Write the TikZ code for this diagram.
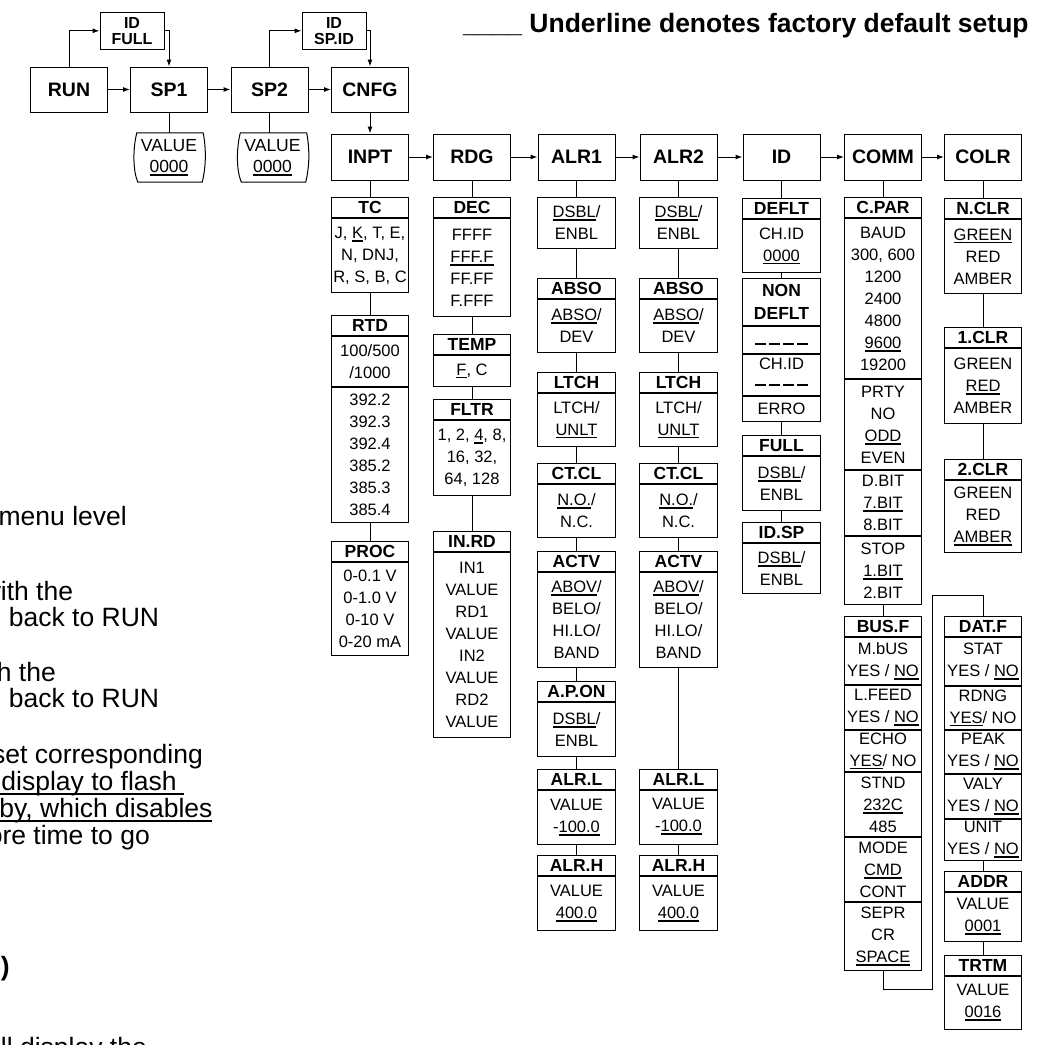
\documentclass[tikz,border=0pt]{standalone}
\usepackage{fontspec}
\setmainfont{Liberation Sans}
\usetikzlibrary{arrows.meta,positioning}
\newcommand\ul[1]{\setbox0=\hbox{#1}\rlap{\rule[-3.4pt]{\wd0}{1.9pt}}\box0}
\newcommand\thinul[1]{\setbox0=\hbox{#1}\rlap{\rule[-4.5pt]{\wd0}{1.3pt}}\box0}
\newcommand\blank{\rule{11pt}{1.6pt}\hspace{3pt}\rule{11pt}{1.6pt}\hspace{3pt}\rule{11pt}{1.6pt}\hspace{3pt}\rule{11pt}{1.6pt}}
\newcommand\sub[6]{%
  \node[head] (#1) at (#2,#3) {#4};
  \node[part, minimum height=#5pt, below=0pt of #1] (#1v) {#6};}
\tikzset{
  link/.style={line width=1pt},
  go/.style={link,-{Latex[length=7pt,width=5pt]}},
  menu/.style={draw,link,minimum width=77pt,minimum height=45pt,inner sep=0pt,font=\fontsize{19.5}{22}\selectfont\bfseries},
  tag/.style={draw,link,minimum width=64pt,minimum height=37pt,inner sep=0pt,align=center,font=\fontsize{16}{16}\selectfont\bfseries},
  scroll/.style={minimum width=70pt,minimum height=49pt,inner sep=0pt,align=center,font=\fontsize{17.5}{21}\selectfont},
  head/.style={draw,link,anchor=north,minimum width=77.5pt,minimum height=20pt,inner sep=0pt,font=\fontsize{17.5}{18}\selectfont\bfseries},
  part/.style={draw,link,minimum width=77.5pt,inner sep=0pt,align=center,font=\fontsize{16.5}{22}\selectfont},
  note/.style={anchor=base east,inner sep=0pt,font=\fontsize{26.5}{26}\selectfont},
}
\def\tape#1{\draw[link] ([xshift=3pt]#1.north west) -- ([xshift=-1pt]#1.north east)
  .. controls +(3pt,-16pt) and +(4pt,16pt) .. ([xshift=-2pt]#1.south east)
  -- ([xshift=4pt]#1.south west) .. controls +(-5pt,12pt) and +(-4pt,-16pt) .. cycle;}
\begin{document}
\begin{tikzpicture}[x=1pt,y=-1pt]
  \useasboundingbox (0,0) rectangle (1045,1045);
  \fill[white] (0,0) rectangle (1045,1045);
  \clip (0,0) rectangle (1045,1045);

  \node[anchor=base west,inner sep=0pt,font=\fontsize{26.5}{26}\selectfont\bfseries] (title) at (463,32)
    {\_\_\_\_ Underline denotes factory default setup};

  \node[menu] (run) at (69,89.5) {RUN};
  \node[menu] (sp1) at (169,89.5) {SP1};
  \node[menu] (sp2) at (269.5,89.5) {SP2};
  \node[menu] (cnfg) at (370,89.5) {CNFG};
  \node[tag] (idf) at (132,30.8) {ID\\FULL};
  \node[tag] (ids) at (334,30.8) {ID\\SP.ID};
  \node[scroll] (v1) at (169,157.5) {VALUE\\\ul{0000}};
  \node[scroll] (v2) at (272.5,157.5) {VALUE\\\ul{0000}};
  \tape{v1}
  \tape{v2}
  \draw[go] (run.north) |- (idf.west);
  \draw[go] (idf.east) -| (sp1.north);
  \draw[go] (sp2.north) |- (ids.west);
  \draw[go] (ids.east) -| (cnfg.north);
  \draw[go] (run) -- (sp1);
  \draw[go] (sp1) -- (sp2);
  \draw[go] (sp2) -- (cnfg);
  \draw[link] (sp1) -- (v1);
  \draw[link] (sp2.south) -- (sp2.south |- v2.north);

  \foreach \n/\t/\x in {inpt/INPT/370, rdg/RDG/472, alr1/ALR1/576.5, alr2/ALR2/678.5, id/ID/781.5, comm/COMM/883, colr/COLR/983}
    \node[menu, minimum height=46pt] (\n) at (\x,157) {\t};
  \draw[go] (cnfg) -- (inpt);
  \foreach \a/\b in {inpt/rdg, rdg/alr1, alr1/alr2, alr2/id, id/comm, comm/colr}
    \draw[go] (\a) -- (\b);

  \sub{tc}{370}{197}{TC}{74}{J, \ul{K}, T, E,\\N, DNJ,\\R, S, B, C}
  \sub{rtd}{370}{315}{RTD}{50}{100/500\\/1000}
  \node[part, minimum height=135pt, below=0pt of rtdv] (rtdw) {392.2\\392.3\\392.4\\385.2\\385.3\\385.4};
  \sub{proc}{370}{541}{PROC}{93}{0-0.1 V\\0-1.0 V\\0-10 V\\0-20 mA}
  \draw[link] (inpt) -- (tc) (tcv) -- (rtd) (rtdw) -- (proc);

  \sub{dec}{472}{197}{DEC}{98}{FFFF\\\ul{FFF.F}\\FF.FF\\F.FFF}
  \sub{temp}{472}{334}{TEMP}{31}{\ul{F}, C}
  \sub{fltr}{472}{399}{FLTR}{75}{1, 2, \ul{4}, 8,\\16, 32,\\64, 128}
  \sub{inrd}{472}{531}{IN.RD}{185}{IN1\\VALUE\\RD1\\VALUE\\IN2\\VALUE\\RD2\\VALUE}
  \draw[link] (rdg) -- (dec) (decv) -- (temp) (tempv) -- (fltr) (fltrv) -- (inrd);

  \foreach \n/\x/\l in {1/576.5/769, 2/678.5/768.5} {
    \node[part, anchor=north, minimum height=51pt] (a\n-en) at (\x,196.5) {\ul{DSBL}/\\ENBL};
    \sub{a\n-abs}{\x}{278}{ABSO}{53}{\ul{ABSO}/\\DEV}
    \sub{a\n-lt}{\x}{371.5}{LTCH}{53.5}{LTCH/\\\ul{UNLT}}
    \sub{a\n-ct}{\x}{463}{CT.CL}{53}{\ul{N.O.}/\\N.C.}
    \sub{a\n-act}{\x}{551}{ACTV}{95}{\ul{ABOV}/\\BELO/\\HI.LO/\\BAND}
    \sub{a\n-lo}{\x}{\l}{ALR.L}{54}{VALUE\\-\ul{100.0}}
    \sub{a\n-hi}{\x}{855}{ALR.H}{54}{VALUE\\\ul{400.0}}
    \draw[link] (alr\n) -- (a\n-en) (a\n-en) -- (a\n-abs) (a\n-absv) -- (a\n-lt)
      (a\n-ltv) -- (a\n-ct) (a\n-ctv) -- (a\n-act) (a\n-lov) -- (a\n-hi);
  }
  \sub{ap}{576.5}{681}{A.P.ON}{54}{\ul{DSBL}/\\ENBL}
  \draw[link] (a1-actv) -- (ap) (apv) -- (a1-lo) (a2-actv) -- (a2-lo);

  \sub{deflt}{781.5}{198}{DEFLT}{53}{CH.ID\\\ul{0000}}
  \node[head, minimum height=47pt, align=center, font=\fontsize{17.5}{23}\selectfont\bfseries] (non) at (781.5,278) {NON\\DEFLT};
  \node[part, minimum height=27pt, below=0pt of non] (non1) {\raisebox{-4.5pt}[0pt][0pt]{\blank}};
  \node[part, minimum height=41pt, below=0pt of non1] (non2) {CH.ID\\\raisebox{6pt}[0pt][0pt]{\blank}};
  \node[part, minimum height=25pt, below=0pt of non2] (non3) {ERRO};
  \sub{full}{781.5}{435}{FULL}{53.5}{\ul{DSBL}/\\ENBL}
  \sub{idsp}{781.5}{521.5}{ID.SP}{50.5}{\ul{DSBL}/\\ENBL}
  \draw[link] (id) -- (deflt) (defltv) -- (non) (non3) -- (full) (fullv) -- (idsp);

  \sub{cpar}{883}{197}{C.PAR}{160}{BAUD\\300, 600\\1200\\2400\\4800\\\ul{9600}\\19200}
  \node[part, minimum height=90pt, below=0pt of cparv] (cpar2) {PRTY\\NO\\\ul{ODD}\\EVEN};
  \node[part, minimum height=65pt, below=0pt of cpar2] (cpar3) {D.BIT\\\ul{7.BIT}\\8.BIT};
  \node[part, minimum height=68pt, below=0pt of cpar3] (cpar4) {STOP\\\ul{1.BIT}\\2.BIT};
  \sub{busf}{883}{616}{BUS.F}{47}{M.bUS\\YES / \ul{NO}}
  \node[part, minimum height=44pt, below=0pt of busfv] (busf2) {L.FEED\\YES / \ul{NO}};
  \node[part, minimum height=41pt, below=0pt of busf2] (busf3) {ECHO\\\ul{YES} / NO};
  \node[part, minimum height=64pt, below=0pt of busf3] (busf4) {STND\\\ul{232C}\\485};
  \node[part, minimum height=64pt, below=0pt of busf4] (busf5) {MODE\\\ul{CMD}\\CONT};
  \node[part, minimum height=68pt, below=0pt of busf5] (busf6) {SEPR\\CR\\\ul{SPACE}};
  \draw[link] (comm) -- (cpar) (cpar4) -- (busf);

  \sub{nclr}{983}{198}{N.CLR}{73.5}{\ul{GREEN}\\RED\\AMBER}
  \sub{clr1}{983}{326.5}{1.CLR}{75}{GREEN\\\ul{RED}\\AMBER}
  \sub{clr2}{983}{459}{2.CLR}{72}{GREEN\\RED\\\ul{AMBER}}
  \draw[link] (colr) -- (nclr) (nclrv) -- (clr1) (clr1v) -- (clr2);
  \sub{datf}{983}{616}{DAT.F}{48}{STAT\\YES / \ul{NO}}
  \node[part, minimum height=43pt, below=0pt of datfv] (datf2) {RDNG\\\ul{YES} / NO};
  \node[part, minimum height=43pt, below=0pt of datf2] (datf3) {PEAK\\YES / \ul{NO}};
  \node[part, minimum height=44pt, below=0pt of datf3] (datf4) {VALY\\YES / \ul{NO}};
  \node[part, minimum height=41pt, below=0pt of datf4] (datf5) {UNIT\\YES / \ul{NO}};
  \sub{addr}{983}{871}{ADDR}{49}{VALUE\\\ul{0001}}
  \sub{trtm}{983}{955}{TRTM}{53}{VALUE\\\ul{0016}}
  \draw[link] (datf5) -- (addr) (addrv) -- (trtm);
  \coordinate (turn) at (932,595);
  \draw[link] (busf6.south) -- ++(0pt,-18.5pt) -| (turn) -| (datf.north);

  \node[note] (n1) at (127,525) {menu level};
  \node[note] (n2) at (73.3,600) {with the};
  \node[note] (n3) at (159.3,626) {back to RUN};
  \node[note] (n4) at (56,681) {with the};
  \node[note] (n5) at (159.3,707) {back to RUN};
  \node[note] (n6) at (203,763) {set corresponding};
  \node[note] (n7) at (184.3,790) {\thinul{\ display to flash\ }};
  \node[note] (n8) at (212.7,817) {\thinul{\ by, which disables}};
  \node[note] (n9) at (150,844) {ore time to go};
  \node[note,font=\fontsize{26.5}{26}\selectfont\bfseries] (n10) at (10,975) {c)};
  \node[note] (n11) at (147,1056) {will display the};
\end{tikzpicture}
\end{document}
